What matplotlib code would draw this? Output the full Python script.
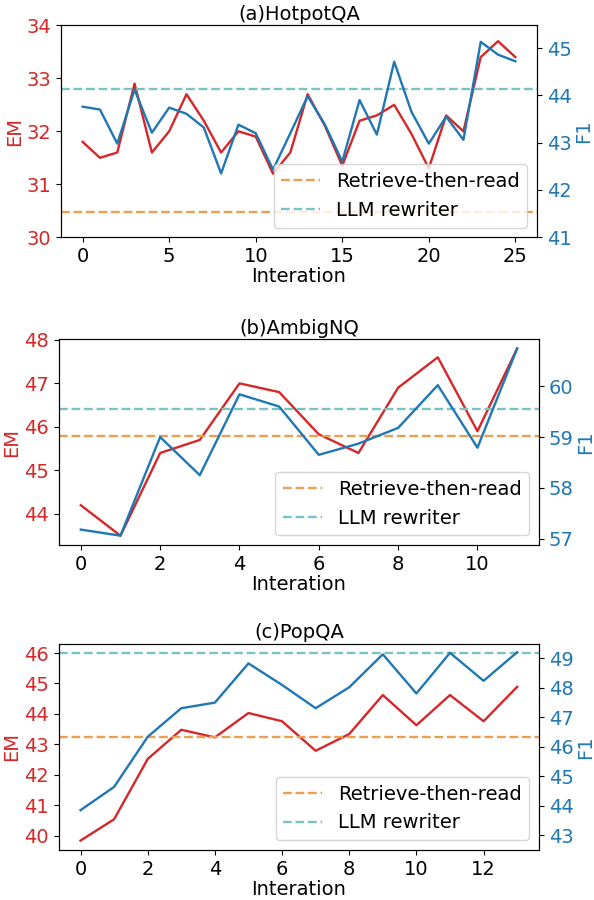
import numpy as np
import matplotlib
matplotlib.use('Agg')
import matplotlib.pyplot as plt
from matplotlib.ticker import MultipleLocator

plt.rcParams['font.size'] = 14

# (a) HotpotQA
hotpot_em = [31.8, 31.5, 31.6, 32.9, 31.6, 32.0, 32.7, 32.2, 31.6, 32.0, 31.9, 31.2, 31.6,
             32.7, 32.1, 31.35, 32.2, 32.3, 32.5, 31.95, 31.3, 32.3, 32.0, 33.4, 33.7, 33.4]
hotpot_f1 = [43.76, 43.7, 42.98, 44.12, 43.21, 43.74, 43.61, 43.32, 42.35, 43.38, 43.2, 42.43, 43.2,
             43.98, 43.38, 42.6, 43.9, 43.17, 44.71, 43.65, 42.98, 43.55, 43.06, 45.13, 44.86, 44.72]
hotpot_base = [30.47, 32.8]

# (b) AmbigNQ
ambig_em = [44.2, 43.5, 45.4, 45.7, 47.0, 46.8, 45.83, 45.4, 46.9, 47.6, 45.9, 47.8]
ambig_f1 = [57.18, 57.06, 59.0, 58.25, 59.84, 59.6, 58.65, 58.87, 59.18, 60.02, 58.79, 60.74]
ambig_base = [45.8, 46.4]

# (c) PopQA
pop_em = [39.84, 40.54, 42.52, 43.48, 43.23, 44.03, 43.76, 42.79, 43.34, 44.62, 43.63, 44.62, 43.76, 44.89]
pop_f1 = [43.85, 44.64, 46.34, 47.31, 47.5, 48.83, 48.1, 47.31, 48.02, 49.14, 47.81, 49.19, 48.24, 49.21]
pop_base = [43.23, 46.0]

panels = [
    ('(a)HotpotQA', hotpot_em, hotpot_f1, hotpot_base, 5, (30, 34), (41, 45.48),
     [0.1027, 0.7363, 0.8013, 0.2356]),
    ('(b)AmbigNQ', ambig_em, ambig_f1, ambig_base, 2, None, None,
     [0.0993, 0.3944, 0.808, 0.2287]),
    ('(c)PopQA', pop_em, pop_f1, pop_base, 2, None, (42.5, 49.5),
     [0.0988, 0.0556, 0.8086, 0.2292]),
]

red = '#d62728'
blue = '#1f77b4'
orange = '#eb9f50'
teal = '#78c3c6'
lw = 1.7

fig = plt.figure(figsize=(5.94, 9), dpi=100)

for title, em, f1, base, step, ylim_em, ylim_f1, pos in panels:
    x = np.arange(len(em))
    ax = fig.add_axes(pos)
    ax.plot(x, em, color=red, lw=lw)
    l1 = ax.axhline(base[0], color=orange, ls='--', lw=lw, label='Retrieve-then-read')
    l2 = ax.axhline(base[1], color=teal, ls='--', lw=lw, label='LLM rewriter')
    ax.set_ylabel('EM', color=red, labelpad=2)
    ax.tick_params(axis='y', labelcolor=red)
    ax.yaxis.set_major_locator(MultipleLocator(1))
    ax.set_xlabel('Interation', labelpad=1)
    ax.set_xticks(np.arange(0, len(em), step))
    ax.set_title(title, fontsize=14, pad=4)
    if ylim_em:
        ax.set_ylim(*ylim_em)

    ax2 = ax.twinx()
    ax2.plot(x, f1, color=blue, lw=lw)
    ax2.set_ylabel('F1', color=blue, labelpad=2)
    ax2.tick_params(axis='y', labelcolor=blue)
    ax2.yaxis.set_major_locator(MultipleLocator(1))
    if ylim_f1:
        ax2.set_ylim(*ylim_f1)
    ax2.legend(handles=[l1, l2], loc='lower right')

plt.savefig('out.png')
